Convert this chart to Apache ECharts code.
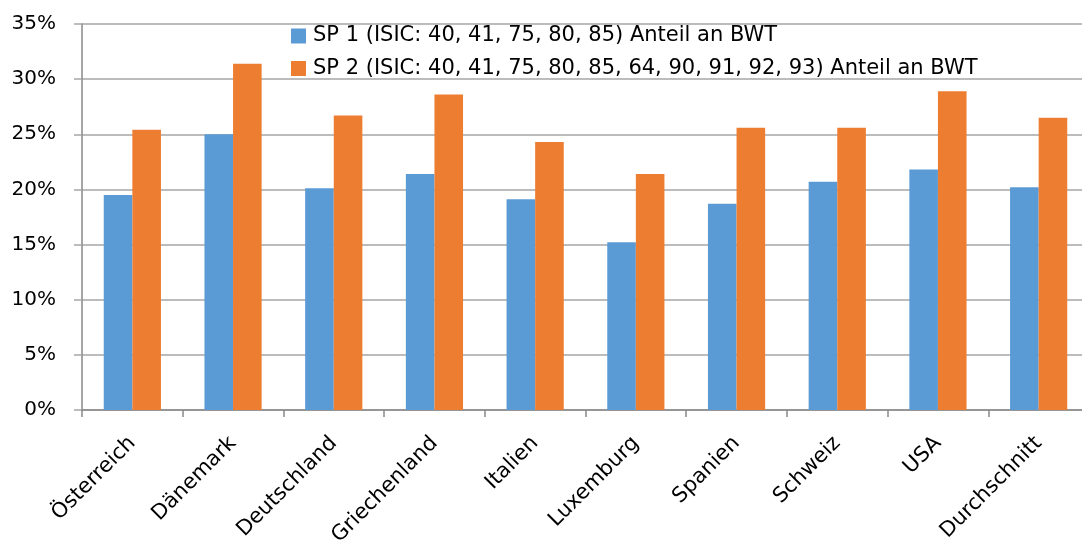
<!DOCTYPE html>
<html>
<head>
<meta charset="utf-8">
<script src="https://cdn.jsdelivr.net/npm/echarts@6/dist/echarts.min.js"></script>
<style>
html,body{margin:0;padding:0;background:#fff;}
#c{width:1082px;height:542px;}
</style>
</head>
<body>
<div id="c"></div>
<script>
const categories = ['Österreich','Dänemark','Deutschland','Griechenland','Italien','Luxemburg','Spanien','Schweiz','USA','Durchschnitt'];
const sp1 = [19.5, 25.0, 20.1, 21.4, 19.1, 15.2, 18.7, 20.7, 21.8, 20.2];
const sp2 = [25.4, 31.4, 26.7, 28.6, 24.3, 21.4, 25.6, 25.6, 28.9, 26.5];
const seriesNames = ['SP 1 (ISIC: 40, 41, 75, 80, 85) Anteil an BWT','SP 2 (ISIC: 40, 41, 75, 80, 85, 64, 90, 91, 92, 93) Anteil an BWT'];

const font = 'DejaVu Sans';
const chart = echarts.init(document.getElementById('c'));
chart.setOption({
  animation:false,
  textStyle:{fontFamily:font},
  legend:{
    orient:'vertical', left:291, top:25.5, padding:0,
    itemWidth:15, itemHeight:15, itemGap:11.5,
    icon:'rect',
    textStyle:{fontSize:21, lineHeight:21, color:'#000', fontFamily:font, padding:[0,0,0,2]},
    data:seriesNames
  },
  grid:{left:82, right:-7, top:24, bottom:132, containLabel:false, outerBoundsMode:'none'},
  xAxis:{
    type:'category', data:categories,
    axisLine:{lineStyle:{color:'#898989', width:1.5}},
    axisTick:{show:true, length:7, alignWithLabel:false, lineStyle:{color:'#898989', width:1.5}},
    axisLabel:{rotate:45, fontSize:21, color:'#000', margin:30, fontFamily:font, interval:0}
  },
  yAxis:{
    type:'value', min:0, max:35, interval:5,
    axisLine:{show:true, lineStyle:{color:'#898989', width:1.5}},
    axisTick:{show:true, length:8, lineStyle:{color:'#A6A6A6', width:1.5}},
    splitLine:{lineStyle:{color:'#A6A6A6', width:1.5}},
    axisLabel:{formatter:'{value}%', fontSize:20, color:'#000', margin:26, fontFamily:font}
  },
  series:[
    {name:seriesNames[0], type:'bar', data:sp1, barWidth:'28.4%', barGap:'0%', itemStyle:{color:'#5B9BD5'}},
    {name:seriesNames[1], type:'bar', data:sp2, barWidth:'28.4%', barGap:'0%', itemStyle:{color:'#ED7D31'}}
  ]
});
</script>
</body>
</html>
